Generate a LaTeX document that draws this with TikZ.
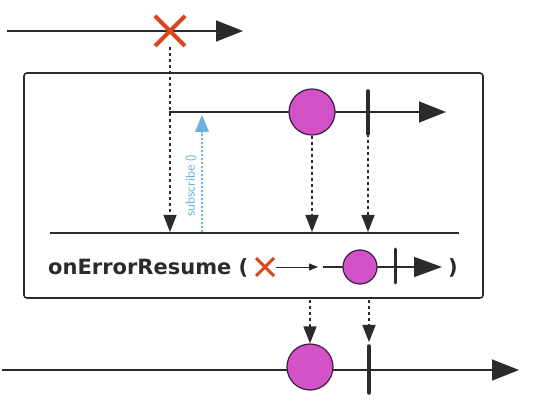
\documentclass[tikz,border=0pt]{standalone}
\usepackage{fontspec}
\setmainfont{Lato}
\newfontfamily\opfont{DejaVu Sans}
\usetikzlibrary{arrows.meta,calc}
\definecolor{ink}{HTML}{2B2B2B}
\definecolor{xred}{HTML}{D9461E}
\definecolor{mag}{HTML}{D452C8}
\definecolor{magedge}{HTML}{3A1F3A}
\definecolor{sub}{HTML}{6BB3DB}
\tikzset{
  timeline/.style={ink, line width=1.6pt, -{Triangle[length=27pt,width=21pt]}},
  dotarrow/.style={ink, line width=1.6pt, dash pattern=on 3pt off 3pt, -{Triangle[length=17pt,width=13pt]}},
  xmark/.style={xred, line width=4pt},
  marble/.style={circle, draw=magedge, fill=mag, line width=1.2pt, inner sep=0pt},
  bar/.style={ink, line width=3.5pt, line cap=round},
  oplabel/.style={anchor=base west, inner sep=0pt, font=\opfont\bfseries\fontsize{21}{24}\selectfont, text=ink},
}
\begin{document}
\begin{tikzpicture}[x=1pt,y=-1pt]
\useasboundingbox (0,0) rectangle (536,406);
% top source line
\coordinate (t0) at (7,31);
\coordinate (t1) at (243,31);
\coordinate (xc) at (170,31);
\draw[timeline] (t0) -- (t1);
\draw[xmark] ($(xc)+(-15,-15)$) -- ($(xc)+(15,15)$);
\draw[xmark] ($(xc)+(-15,15)$) -- ($(xc)+(15,-15)$);
% box
\draw[ink, line width=1.6pt, rounded corners=3pt] (24,73) rectangle (483,298);
% inner line
\coordinate (i0) at (169,112);
\coordinate (i1) at (446,112);
\draw[timeline] (i0) -- (i1);
\node[marble, minimum size=46pt] (m1) at (312,112) {};
\coordinate (b1t) at (368,91);
\coordinate (b1b) at (368,134);
\draw[bar] (b1t) -- (b1b);
% operator line
\coordinate (o0) at (50,233);
\coordinate (o1) at (459,233);
\draw[ink, line width=1.6pt] (o0) -- (o1);
% dotted arrows inside
\coordinate (xd) at (170,47);
\coordinate (xe) at (170,232);
\draw[dotarrow] (xd) -- (xe);
\coordinate (m1e) at (312,232);
\draw[dotarrow] (m1.south) -- (m1e);
\coordinate (b1e) at (368,232);
\draw[dotarrow] (b1b) -- (b1e);
% subscribe
\coordinate (s0) at (202,232);
\coordinate (s1) at (202,115);
\draw[sub, line width=1.2pt, dash pattern=on 2pt off 2pt, -{Triangle[length=17pt,width=14pt]}] (s0) -- (s1);
\node[sub, rotate=90, font=\fontsize{12.5}{14}\selectfont] (subl) at (191,186) {subscribe ()};
% operator label
\node[oplabel] (op) at (48,275) {onErrorResume (};
\coordinate (xo) at (265,267);
\draw[xred, line width=3pt] ($(xo)+(-9,-9)$) -- ($(xo)+(9,9)$);
\draw[xred, line width=3pt] ($(xo)+(-9,9)$) -- ($(xo)+(9,-9)$);
\coordinate (xa0) at (276,267);
\coordinate (xa1) at (318,267);
\draw[ink, line width=0.9pt, -{Triangle[length=9pt,width=7pt]}] (xa0) -- (xa1);
\coordinate (l0) at (323,267);
\coordinate (l1) at (442,267);
\draw[ink, line width=1.6pt, -{Triangle[length=28pt,width=20pt]}] (l0) -- (l1);
\node[marble, minimum size=34pt] (m2) at (360,267) {};
\coordinate (b2t) at (395,249);
\coordinate (b2b) at (395,283);
\draw[bar, line width=3pt] (b2t) -- (b2b);
\node[oplabel] (cp) at (448,275) {)};
% bottom line
\coordinate (r0) at (2,370);
\coordinate (r1) at (519,370);
\draw[timeline] (r0) -- (r1);
\node[marble, minimum size=46pt] (m3) at (310,367) {};
\coordinate (b3t) at (369,346);
\coordinate (b3b) at (369,393);
\draw[bar] (b3t) -- (b3b);
\coordinate (d1) at (310,300);
\draw[dotarrow] (d1) -- (m3.north);
\coordinate (d2) at (369,300);
\coordinate (d2e) at (369,342);
\draw[dotarrow] (d2) -- (d2e);
\end{tikzpicture}
\end{document}
